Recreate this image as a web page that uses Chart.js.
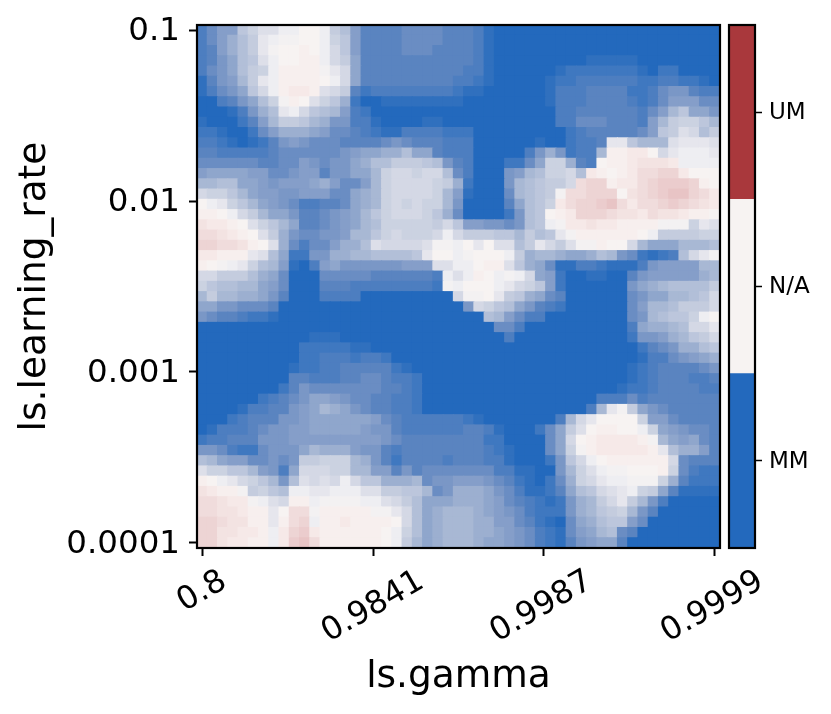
<!DOCTYPE html>
<html><head><meta charset="utf-8">
<style>html,body{margin:0;padding:0;background:#fff;overflow:hidden}canvas{position:absolute;top:0}#c1{left:0}#c2{left:726px}</style>
<script src="https://cdn.jsdelivr.net/npm/chart.js@4"></script>
</head><body>
<canvas id="c1" width="831" height="714"></canvas>
<canvas id="c2" width="105" height="714"></canvas>
<script>
const xTickLabels = ['0.8','0.9841','0.9987','0.9999'];
const yTickLabels = ['0.1','0.01','0.001','0.0001'];
const xAxisTitle = 'ls.gamma';
const yAxisTitle = 'ls.learning_rate';
const barLabels = ['MM','N/A','UM'];
const barColors = ['#2369BD','#F7F3F2','#A9383C'];
const rampColors = ['#2369BD','#3070BE','#3F78C0','#4D7EC0','#5A84C0','#6A8DC3','#7A97C6','#859EC9','#8FA6CC','#9CAFD0','#A8B8D4','#B2BFD8','#BCC6DC','#C4CCDE','#CBD2E1','#D4D8E5','#DDDFE9','#E6E6ED','#EEEEF2','#F3F1F2','#F7F3F2','#F7EFEE','#F6E9E8','#F3E3E2','#F0DCDC','#EDD4D4','#EBCCCD','#E8C4C5'];
const gridValues = [
[3,5,7,7,12,14,16,16,18,18,20,20,18,13,11,7,4,4,4,4,5,5,5,5,4,4,4,3,1,0,0,0,0,0,0,0,0,0,0,0,0,0,0,0,0,0,0,0,0,0,0],
[3,5,7,9,11,13,17,18,19,19,20,20,18,14,12,7,4,4,4,4,5,5,5,5,4,4,4,3,1,0,0,0,0,0,0,0,0,0,0,0,0,0,0,0,0,0,0,0,0,0,0],
[3,4,7,9,11,13,17,19,20,20,21,20,18,15,12,7,4,4,4,4,5,5,5,4,4,4,4,3,1,0,0,0,0,0,0,0,0,0,0,0,0,0,0,0,0,0,0,0,0,0,0],
[3,4,6,8,11,12,16,18,20,20,21,21,18,15,13,8,4,4,4,4,4,4,4,4,4,4,4,3,1,0,0,0,0,0,0,0,0,0,1,1,1,1,1,0,0,0,0,0,0,0,0],
[3,5,6,8,11,13,14,18,21,21,21,21,19,17,15,8,4,4,4,4,4,4,4,4,4,4,3,3,1,0,0,0,0,0,0,1,2,2,2,2,2,2,2,1,0,2,2,0,0,0,0],
[1,4,6,7,10,13,17,18,21,21,21,21,20,18,15,8,4,4,4,4,4,4,4,4,4,3,3,2,1,0,0,0,0,0,1,2,2,3,3,3,3,3,3,2,2,3,3,2,2,1,0],
[1,3,5,6,8,12,15,18,21,22,22,21,16,15,13,4,2,3,3,3,3,3,3,3,3,2,1,1,0,0,0,0,0,0,1,3,3,3,4,4,4,4,2,2,3,5,6,6,4,3,3],
[0,0,3,4,6,8,11,14,19,21,20,16,14,12,9,2,0,0,1,1,1,1,1,1,1,1,0,0,0,0,0,0,0,0,1,3,3,3,4,4,4,4,3,2,3,5,7,7,7,5,5],
[0,0,0,1,3,6,9,11,17,18,15,12,11,10,7,3,2,0,0,0,0,0,0,0,0,0,0,0,0,0,0,0,0,0,0,3,3,4,4,4,4,4,4,3,5,7,10,12,8,8,6],
[1,0,0,0,2,4,7,10,13,13,12,10,9,6,6,3,3,1,0,0,0,0,1,1,0,0,0,0,0,0,0,0,0,0,0,3,3,5,5,5,4,4,4,3,7,10,13,14,14,12,10],
[2,2,1,0,0,2,5,7,9,9,9,8,7,5,5,4,3,2,1,1,3,3,3,3,2,2,2,0,0,0,0,0,0,0,0,0,2,3,4,4,4,4,4,5,7,12,13,16,15,11,13],
[3,3,2,1,0,1,2,4,6,7,6,5,5,5,4,4,4,4,5,6,5,4,4,4,3,3,3,0,0,0,0,0,0,1,0,0,2,3,3,4,17,17,12,10,10,10,16,17,17,17,16],
[4,4,3,3,3,3,3,4,5,5,5,5,5,5,6,7,8,8,9,9,11,8,8,4,3,3,3,0,0,0,0,0,3,6,9,6,2,3,3,10,21,21,22,22,20,15,17,18,18,18,17],
[5,5,5,5,5,5,4,4,5,5,7,6,5,6,6,8,9,11,11,13,13,13,12,11,6,4,3,0,0,0,2,2,5,8,14,14,9,4,3,20,21,21,22,23,23,23,22,18,18,18,18],
[7,8,8,8,8,7,7,5,5,6,7,7,4,6,6,8,8,10,14,15,15,14,15,15,11,5,3,0,0,0,6,7,10,11,14,14,15,11,22,21,20,21,22,24,24,25,25,22,20,20,20],
[10,10,11,11,8,8,7,6,7,7,7,8,9,7,5,5,7,10,14,15,15,15,15,14,13,9,2,0,0,0,6,10,11,12,13,13,15,24,25,25,21,22,22,24,25,26,26,26,25,21,20],
[15,14,14,12,10,8,7,7,6,6,7,7,7,5,5,8,9,10,14,15,15,15,15,14,10,7,1,0,0,0,5,10,11,12,13,19,24,24,25,25,25,20,23,24,25,26,27,27,25,24,22],
[20,18,17,14,12,10,8,7,6,5,3,3,4,4,5,8,9,10,14,15,14,15,14,14,10,6,0,0,0,0,4,8,11,12,14,22,24,25,25,26,27,24,22,24,24,25,26,25,24,23,22],
[21,21,20,18,15,13,10,8,8,6,4,4,5,6,7,8,10,12,14,15,15,15,14,12,9,5,0,0,0,0,2,6,11,12,20,21,22,25,25,25,24,23,23,22,24,23,23,22,21,21,20],
[23,22,22,21,20,16,14,12,10,8,4,4,5,6,7,8,10,11,14,14,14,14,14,13,15,12,7,7,6,6,5,6,11,12,18,19,22,22,23,22,22,21,21,21,21,19,19,19,14,17,16],
[24,24,23,22,21,20,16,13,9,6,5,5,6,6,7,10,10,12,14,15,14,14,14,15,18,15,13,13,13,12,12,10,13,11,12,17,19,21,21,21,21,21,21,20,18,13,13,13,13,14,14],
[25,25,24,24,23,21,20,16,9,5,3,5,5,7,9,9,11,16,15,15,15,15,16,19,19,18,20,17,20,16,16,11,13,17,15,13,16,19,19,21,20,20,15,10,8,8,8,10,10,10,11],
[22,22,21,21,21,17,16,11,8,2,2,6,6,9,9,10,10,11,11,11,11,12,17,20,20,18,19,20,20,20,18,13,9,10,10,9,8,8,9,11,10,6,5,2,1,2,3,11,15,17,19],
[21,20,19,18,17,14,11,10,7,1,0,3,7,8,6,6,6,6,6,6,7,7,7,16,16,18,18,20,21,21,16,12,9,8,5,1,1,3,3,2,1,1,1,3,6,7,7,7,7,10,10],
[15,15,13,13,13,11,9,8,5,0,0,0,5,5,5,5,5,4,4,4,4,4,4,3,18,16,18,21,20,18,19,18,15,8,7,2,0,0,1,1,0,0,4,6,7,7,7,7,7,9,10],
[14,12,11,11,10,10,8,7,5,0,0,0,4,4,4,3,3,3,3,3,3,3,3,2,19,18,20,20,20,18,17,15,14,12,7,2,0,0,0,0,0,0,6,8,9,10,11,11,11,11,13],
[10,13,10,10,9,9,8,6,4,0,0,0,3,3,3,3,0,0,0,0,0,0,0,0,0,15,19,19,20,17,13,12,9,8,5,4,0,0,0,0,0,0,5,6,8,8,10,10,11,12,15],
[8,8,6,6,5,5,5,4,0,0,0,0,0,0,0,0,0,0,0,0,0,0,0,0,0,0,6,15,14,12,11,8,6,4,3,2,0,0,0,0,0,0,5,7,10,10,11,13,13,13,15],
[6,5,4,4,3,2,2,1,0,0,0,0,0,0,0,0,0,0,0,0,0,0,0,0,0,0,0,0,11,10,7,5,3,3,0,0,0,0,0,0,0,0,5,6,10,11,12,12,14,18,20],
[0,0,0,0,0,0,0,0,0,0,0,0,0,0,0,0,0,0,0,0,0,0,0,0,0,0,0,0,0,5,5,3,0,0,0,0,0,0,0,0,0,0,3,8,9,9,10,11,15,15,17],
[0,0,0,0,0,0,0,0,0,0,0,1,1,1,0,0,0,0,0,0,0,0,0,0,0,0,0,0,0,0,3,0,0,0,0,0,0,0,0,0,0,0,2,6,6,7,9,10,12,13,15],
[0,0,0,0,0,0,0,0,0,0,2,2,2,2,2,1,1,0,0,0,0,0,0,0,0,0,0,0,0,0,0,0,0,0,0,0,0,0,0,0,0,0,0,2,4,5,6,9,9,11,12],
[0,0,0,0,0,0,0,0,0,0,2,2,3,3,3,2,3,3,2,0,0,0,0,0,0,0,0,0,0,0,0,0,0,0,0,0,0,0,0,0,0,0,0,1,3,3,5,6,7,8,9],
[0,0,0,0,0,0,0,0,0,1,2,2,3,3,4,4,4,4,4,2,1,0,0,0,0,0,0,0,0,0,0,0,0,0,0,0,0,0,0,0,0,0,1,2,3,4,4,4,4,5,6],
[0,0,0,0,0,0,0,0,0,4,4,3,3,3,4,4,5,5,4,3,3,2,0,0,0,0,0,0,0,0,0,0,0,0,0,0,0,0,0,0,0,0,1,2,3,4,4,4,3,3,4],
[0,0,0,0,0,0,0,0,2,4,6,5,5,5,5,5,5,5,4,4,3,2,0,0,0,0,0,0,0,0,0,0,0,0,0,0,0,0,0,0,0,1,2,2,3,4,4,4,4,3,3],
[0,0,0,0,0,0,2,3,4,5,6,8,8,7,6,5,5,4,4,3,3,2,0,0,0,0,0,0,0,0,0,0,0,0,0,0,0,0,0,3,3,3,5,3,4,4,4,4,4,4,4],
[0,0,0,0,1,3,3,4,4,6,7,8,10,9,8,6,5,4,4,3,3,2,0,0,0,0,0,0,0,0,0,0,0,0,0,0,0,0,3,10,17,19,13,8,6,5,4,4,4,4,4],
[0,0,0,2,3,4,4,4,6,6,7,8,8,8,8,8,8,7,5,4,3,3,3,3,3,3,2,1,0,0,0,0,0,0,0,3,10,15,17,20,20,20,20,14,7,7,5,4,4,4,4],
[0,1,3,3,3,4,5,6,6,7,7,8,8,8,8,8,7,6,6,4,3,3,3,3,3,3,4,4,3,1,0,0,0,2,5,8,13,16,20,21,21,20,20,18,14,8,7,6,5,5,4],
[2,3,3,4,4,4,6,6,6,7,7,7,7,7,7,7,7,7,6,5,4,4,4,4,4,4,4,4,2,2,0,0,0,0,5,8,15,20,21,22,22,22,22,21,19,10,8,7,8,5,4],
[6,6,5,3,2,2,5,6,6,6,8,10,9,9,9,7,6,6,4,3,4,4,4,4,4,4,4,4,3,2,1,0,0,0,5,8,14,19,21,22,22,22,22,22,21,17,11,9,9,7,4],
[11,10,8,7,7,5,5,6,5,6,13,13,14,14,14,10,9,6,4,2,4,4,4,4,3,4,4,4,3,3,1,0,0,0,2,6,12,15,18,20,21,21,21,21,21,21,15,5,4,4,4],
[16,14,14,12,12,10,7,6,3,8,15,15,15,14,14,10,10,7,7,4,6,4,5,5,5,5,5,5,5,3,3,1,1,0,0,6,10,14,16,18,19,19,20,20,20,21,14,5,3,2,2],
[21,20,18,17,15,14,12,10,6,11,16,15,16,15,18,15,12,12,9,9,9,10,5,6,6,7,7,7,6,5,4,2,1,0,2,5,9,14,15,17,18,18,19,19,19,14,9,4,2,2,2],
[23,22,21,21,19,13,14,12,11,18,18,17,17,18,18,18,16,16,13,13,12,12,10,5,6,9,9,9,8,6,5,3,1,1,2,4,8,11,12,15,16,17,18,14,13,8,4,1,1,1,1],
[24,24,23,22,22,19,18,16,15,21,21,18,19,19,19,19,18,18,16,15,13,11,8,8,8,9,9,9,8,7,5,4,3,2,1,2,6,9,10,13,15,17,13,10,6,3,0,0,0,0,0],
[24,24,23,23,22,21,21,17,20,24,24,19,21,21,21,21,21,19,19,17,15,11,8,9,10,10,10,9,8,7,6,5,3,2,2,2,6,9,10,12,13,14,10,6,4,0,0,0,0,0,0],
[25,25,24,23,23,21,21,17,21,24,25,18,21,21,22,21,21,21,21,20,15,11,8,9,10,10,10,9,9,7,7,5,4,2,1,0,5,8,9,11,12,12,7,5,0,0,0,0,0,0,0],
[25,25,23,23,22,22,21,18,22,25,26,22,21,21,21,21,21,21,20,18,14,11,8,9,10,10,10,9,9,8,7,6,5,3,2,1,5,7,8,10,11,5,4,0,0,0,0,0,0,0,0],
[25,25,23,22,22,21,21,18,22,26,27,24,21,21,21,21,21,21,20,18,13,10,8,9,10,10,10,9,8,8,7,6,5,3,2,1,4,6,7,8,8,4,0,0,0,0,0,0,0,0,0]
];

const FONT = '"DejaVu Sans"';
const points = [];
gridValues.forEach((row, r) => row.forEach((v, c) => points.push({x: c, y: r, v})));
const lastIndex = gridValues.length - 1;
const spacedTicks = labels => labels.map((_, i) => ({value: i * lastIndex / (labels.length - 1)}));

const framePlugin = {id: 'frame', afterDraw(chart) {
  const {ctx, chartArea: a} = chart;
  ctx.save(); ctx.strokeStyle = '#000'; ctx.lineWidth = 2.2;
  ctx.strokeRect(a.left, a.top, a.right - a.left, a.bottom - a.top);
  ctx.restore();
}};
const centredRotatedLabels = {id: 'rotLabels', afterDraw(chart) {
  const {ctx, scales: {x}} = chart;
  const deg = 30 * Math.PI / 180, size = 32, h = size * 0.73;
  ctx.save(); ctx.font = size + 'px ' + FONT; ctx.fillStyle = '#000';
  ctx.textAlign = 'center'; ctx.textBaseline = 'middle';
  x.ticks.forEach((t, i) => {
    const w = ctx.measureText(xTickLabels[i]).width;
    const boxH = w * Math.sin(deg) + h * Math.cos(deg);
    ctx.save();
    ctx.translate(x.getPixelForTick(i) - (i > 1 ? 2.5 : 0), 569 + boxH / 2);
    ctx.rotate(-deg);
    ctx.fillText(xTickLabels[i], 0, 0);
    ctx.restore();
  });
  ctx.restore();
}};

new Chart(document.getElementById('c1'), {
  type: 'scatter',
  data: {datasets: [{
    data: points,
    pointStyle: 'rect',
    pointRadius: 8,
    pointHoverRadius: 8,
    pointBorderWidth: 0,
    backgroundColor: c => rampColors[c.raw ? c.raw.v : 0],
    borderColor: 'transparent'
  }]},
  plugins: [framePlugin, centredRotatedLabels],
  options: {
    responsive: false, animation: false, events: [],
    layout: {padding: {top: 25, right: 111, left: 0, bottom: 0}},
    plugins: {legend: {display: false}, tooltip: {enabled: false}},
    scales: {
      x: {
        type: 'linear', min: -0.5, max: lastIndex + 0.5,
        afterBuildTicks: s => { s.ticks = spacedTicks(xTickLabels); },
        afterFit: s => { s.height = 714 - 548; },
        ticks: {display: false, callback: (v, i) => xTickLabels[i], autoSkip: false},
        grid: {display: true, drawOnChartArea: false, drawTicks: true, tickLength: 8, tickWidth: 2, tickColor: '#000', color: '#000'},
        border: {display: false},
        title: {display: true, text: xAxisTitle, color: '#000', font: {family: FONT, size: 37.5}, padding: {top: 0, bottom: 14}}
      },
      y: {
        type: 'linear', reverse: true, min: -0.5, max: lastIndex + 0.5,
        afterBuildTicks: s => { s.ticks = spacedTicks(yTickLabels); },
        afterFit: s => { s.width = 197; s.paddingTop = 0; s.paddingBottom = 0; },
        ticks: {color: '#000', font: {family: FONT, size: 32.5}, padding: 9, labelOffset: 1.5, autoSkip: false, callback: (v, i) => yTickLabels[i]},
        grid: {display: true, drawOnChartArea: false, drawTicks: true, tickLength: 8, tickWidth: 2, tickColor: '#000', color: '#000'},
        border: {display: false},
        title: {display: true, text: yAxisTitle, color: '#000', font: {family: FONT, size: 37.5}, padding: {top: 13, bottom: 0}}
      }
    }
  }
});

new Chart(document.getElementById('c2'), {
  type: 'bar',
  data: {labels: [''], datasets: barLabels.map((name, i) => ({label: name, data: [1], backgroundColor: barColors[i], borderWidth: 0, barPercentage: 1, categoryPercentage: 1}))},
  plugins: [framePlugin],
  options: {
    responsive: false, animation: false, events: [],
    layout: {padding: {top: 25, left: 3, right: 0, bottom: 0}},
    plugins: {legend: {display: false}, tooltip: {enabled: false}},
    scales: {
      x: {stacked: true, display: true, afterFit: s => { s.height = 714 - 548; }, ticks: {display: false}, grid: {display: false}, border: {display: false}},
      y: {
        stacked: true, position: 'right', min: 0, max: barLabels.length,
        afterBuildTicks: s => { s.ticks = barLabels.map((_, i) => ({value: i + 0.5})); },
        afterFit: s => { s.width = 76; s.paddingTop = 0; s.paddingBottom = 0; },
        ticks: {color: '#000', font: {family: FONT, size: 23}, padding: 7, labelOffset: 1, callback: (v, i) => barLabels[i]},
        grid: {display: true, drawOnChartArea: false, drawTicks: true, tickLength: 7, tickWidth: 1.5, tickColor: '#000', color: '#000'},
        border: {display: false}
      }
    }
  }
});
</script>
</body></html>
